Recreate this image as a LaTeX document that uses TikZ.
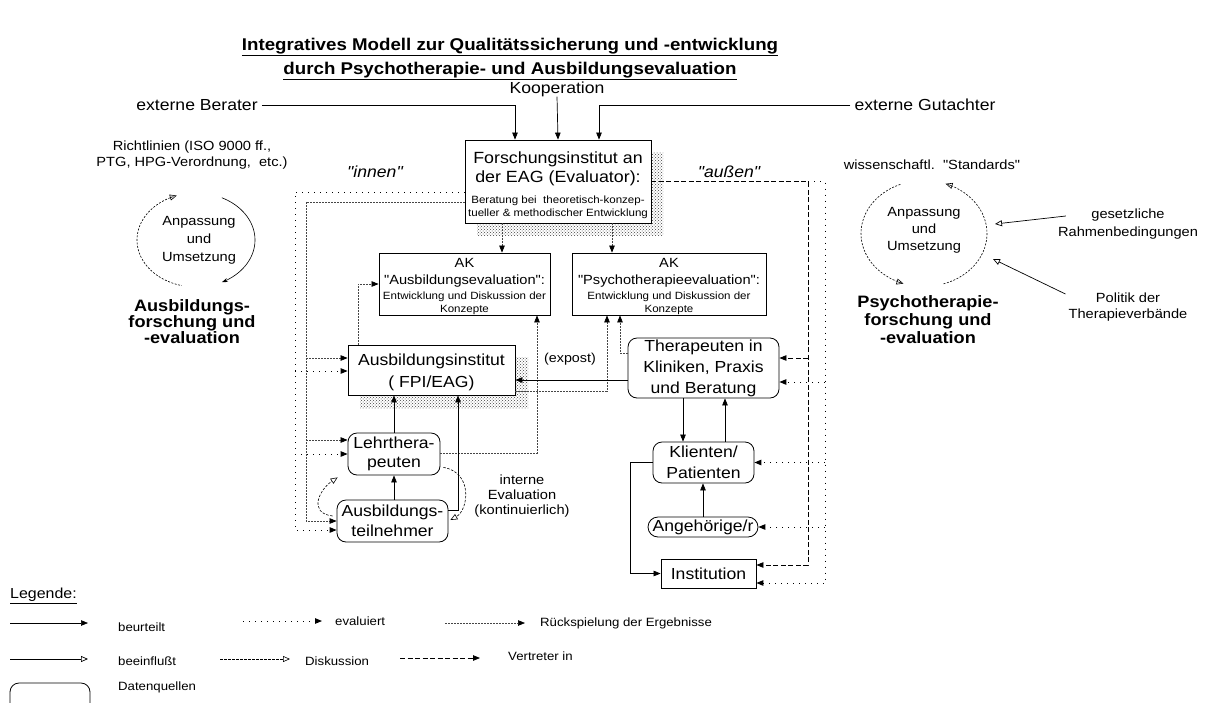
\documentclass[tikz,border=0pt]{standalone}
\usepackage{fontspec}
\setmainfont{Liberation Sans}[FakeStretch=1.1, Ligatures=TeXOff]
\usetikzlibrary{arrows.meta,calc,patterns}
\newcommand\myfs[2]{\fontsize{#1}{#2}\selectfont}
\begin{document}
\begin{tikzpicture}[x=1pt,y=-1pt,
  box/.style={draw, line width=0.8pt, fill=white, inner sep=0pt, align=center},
  rbox/.style={box, rounded corners=9pt},
  txt/.style={inner sep=0pt, align=center},
  beurt/.style={line width=0.7pt, -{Triangle[length=7pt,width=5.5pt]}},
  beein/.style={line width=0.7pt, -{Triangle[open,length=7pt,width=6pt]}},
  evalu/.style={line width=1pt, dash pattern=on 1pt off 5pt, -{Triangle[length=7pt,width=5.5pt]}},
  rueck/.style={line width=0.7pt, gray!55!black, dash pattern=on 2pt off 1pt, -{Triangle[black,length=7pt,width=5.5pt]}},
  vertr/.style={line width=0.8pt, dash pattern=on 5pt off 2.5pt, -{Triangle[length=7pt,width=5.5pt]}},
  disku/.style={line width=0.6pt, dash pattern=on 2.5pt off 1.5pt, -{Triangle[open,length=7pt,width=6pt]}},
  shadow/.style={pattern=crosshatch dots, pattern color=black!75},
  legtxt/.style={txt, anchor=west, font=\myfs{12}{14}},
]
\fill[white] (0,0) rectangle (1213,702);
\useasboundingbox (0,0) rectangle (1213,702);

% ---------- title
\node[txt, font=\bfseries\myfs{17}{24}] (title) at (510,59)
  {\underline{Integratives Modell zur Qualitätssicherung und -entwicklung}\\
   \underline{durch Psychotherapie- und Ausbildungsevaluation}};

% ---------- top labels
\node[txt, font=\myfs{16}{18}] (EB) at (197,105) {externe Berater};
\node[txt, font=\myfs{16}{18}] (KO) at (557,89) {Kooperation};
\node[txt, font=\myfs{16}{18}] (EG) at (925,105) {externe Gutachter};
\node[txt, font=\itshape\myfs{16}{18}] (inn) at (375,172) {"innen"};
\node[txt, font=\itshape\myfs{16}{18}] (aus) at (729,172) {"außen"};

% ---------- shadows
\fill[shadow] (477,152) rectangle (663,235);
\fill[shadow] (360,357) rectangle (528,408);

% ---------- main boxes
\node[box, minimum width=186pt, minimum height=83pt] (F) at (558,181.5) {};
\node[txt, font=\myfs{16.2}{19}] (Ftxt) at (558,185.5)
  {Forschungsinstitut an\\der EAG (Evaluator):\\[2pt]
   {\myfs{10.5}{12}Beratung bei\ \ theoretisch-konzep-}\\[-6pt]
   {\myfs{10.5}{12}tueller \& methodischer Entwicklung}};
\node[box, minimum width=171pt, minimum height=62pt] (A) at (464.5,284) {};
\node[txt, font=\myfs{10.5}{13}] (Atxt) at (464.5,286.5)
  {{\myfs{13.3}{15}AK}\\[4.5pt]{\myfs{13.3}{15}"Ausbildungsevaluation":}\\[2pt]Entwicklung und Diskussion der\\Konzepte};
\node[box, minimum width=194pt, minimum height=62pt] (P) at (669,284) {};
\node[txt, font=\myfs{10.5}{13}] (Ptxt) at (669,286.5)
  {{\myfs{13.3}{15}AK}\\[4.5pt]{\myfs{13.3}{15}"Psychotherapieevaluation":}\\[2pt]Entwicklung und Diskussion der\\Konzepte};
\node[box, minimum width=167pt, minimum height=50pt] (AI) at (431.5,370) {};
\node[txt, font=\myfs{16}{22}] (AItxt) at (431.5,372) {Ausbildungsinstitut\\( FPI/EAG)};
\node[rbox, minimum width=92pt, minimum height=42pt, font=\myfs{16}{18.5}] (L) at (394,454)
  {Lehrthera-\\peuten};
\node[rbox, minimum width=111pt, minimum height=42pt, font=\myfs{16}{20}] (T) at (392.5,521)
  {Ausbildungs-\\teilnehmer};
\node[rbox, minimum width=151pt, minimum height=60pt, font=\myfs{16}{21}] (Th) at (703.5,368)
  {Therapeuten in\\Kliniken, Praxis\\und Beratung};
\node[rbox, minimum width=101pt, minimum height=41pt, font=\myfs{16}{21}] (K) at (703.5,462.5)
  {Klienten/\\Patienten};
\node[rbox, rounded corners=10pt, minimum width=110pt, minimum height=20pt, font=\myfs{16}{18}] (G) at (703,527)
  {Angehörige/r};
\node[box, minimum width=95pt, minimum height=29pt, font=\myfs{16}{18}] (I) at (708.5,573.5)
  {Institution};

% ---------- other texts
\node[txt, font=\myfs{13}{15}] (exp) at (570,359) {(expost)};
\node[txt, font=\myfs{13.3}{15}] (ie) at (522,496) {interne\\Evaluation\\(kontinuierlich)};
\node[txt, font=\myfs{13.3}{16}] (RL) at (192,155) {Richtlinien (ISO 9000 ff.,\\PTG, HPG-Verordnung,\ \ etc.)};
\node[txt, font=\myfs{13.3}{18}] (AN1) at (199,240) {Anpassung\\und\\Umsetzung};
\node[txt, font=\bfseries\myfs{16.5}{16}] (AB) at (192,322) {Ausbildungs-\\forschung und\\-evaluation};
\node[txt, font=\myfs{13.3}{15}] (WS) at (932,165) {wissenschaftl.\ \ "Standards"};
\node[txt, font=\myfs{13.3}{17}] (AN2) at (924,230) {Anpassung\\und\\Umsetzung};
\node[txt, font=\bfseries\myfs{16.5}{18}] (PF) at (928,320) {Psychotherapie-\\forschung und\\-evaluation};
\node[txt, font=\myfs{13.3}{18}] (GR) at (1128,224) {gesetzliche\\Rahmenbedingungen};
\node[txt, font=\myfs{13.3}{16}] (PT) at (1128,307) {Politik der\\Therapieverbände};

% ---------- top arrows
\draw[beurt] ([xshift=4pt]EB.east) -| ([xshift=-43pt]F.north);
\draw[beurt] (KO.south) -- (F.north);
\draw[beurt] ([xshift=-4pt]EG.west) -| ([xshift=41pt]F.north);

% ---------- F to AK boxes
\draw[rueck] ([xshift=-56pt]F.south) -- ([xshift=37.5pt]A.north);
\draw[rueck] ([xshift=54pt]F.south) -- ([xshift=-57pt]P.north);

% ---------- left dotted (evaluiert)
\coordinate (dL) at (295,192);
\coordinate (TinD) at ([yshift=-9pt]T.west);
\coordinate (AIinD) at ([yshift=-1pt]AI.west);
\draw[evalu] ([yshift=-10.5pt]F.west) -- (dL) -- (dL |- TinD) -- (TinD);
\draw[evalu] (dL |- AIinD) -- (AIinD);
\draw[evalu] (dL |- L.west) -- (L.west);

% ---------- left dashed (Rueckspielung)
\coordinate (rL) at (306,202);
\coordinate (AIinR) at ([yshift=12pt]AI.west);
\coordinate (LinR) at ([yshift=14pt]L.west);
\draw[rueck] ([yshift=-20.5pt]F.west) -- (rL) -- (rL |- T.west) -- (T.west);
\draw[rueck] (rL |- AIinR) -- (AIinR);
\draw[rueck] (rL |- LinR) -- (LinR);

% ---------- right dashed (Vertreter)
\coordinate (vR) at (808,181.5);
\coordinate (IinV) at ([yshift=8.5pt]I.east);
\coordinate (ThinV) at ([yshift=10pt]Th.east);
\draw[vertr] (F.east) -- (vR) -- (vR |- IinV) -- (IinV);
\draw[vertr] (vR |- ThinV) -- (ThinV);

% ---------- right dotted (evaluiert)
\coordinate (dR) at (825,181.5);
\coordinate (IinD) at ([yshift=-9.5pt]I.east);
\coordinate (ThinD) at ([yshift=-14pt]Th.east);
\draw[evalu] (vR) -- (dR) -- (dR |- IinD) -- (IinD);
\draw[evalu] (dR |- ThinD) -- (ThinD);
\draw[evalu] (dR |- K.east) -- (K.east);
\draw[evalu] (dR |- G.east) -- (G.east);

% ---------- inner connectors
\draw[rueck] ([xshift=-73.5pt]AI.north) |- (A.west);
\draw[rueck] ([yshift=1pt]L.east) -| ([xshift=72.5pt]A.south);
\draw[rueck] ([yshift=-21pt]AI.east) -| ([xshift=-62pt]P.south);
\draw[rueck] ([yshift=15pt]Th.west) -| ([xshift=-49pt]P.south);
\coordinate (ThoutE) at ([yshift=-12pt]Th.west);
\draw[beurt] (ThoutE) -- (ThoutE -| AI.east);
\draw[beurt] (L.north) -- (L.north |- AI.south);
\draw[beurt] ([yshift=11pt]T.east) -| ([xshift=26.5pt]AI.south);
\draw[beurt] (L.south |- T.north) -- (L.south);
\draw[disku] ($(T.west)+(-4,-5)$) .. controls +(-25,-3) and +(-18,12) .. ($(L.south west)+(-10,2)$);
\draw[disku] ($(L.south east)+(3,-8)$) .. controls +(30,5) and +(18,-10) .. ($(T.east)+(2,-1)$);

% ---------- right cluster
\draw[beurt] ([xshift=-20.5pt]Th.south) -- ([xshift=-20.5pt]Th.south |- K.north);
\draw[beurt] ([xshift=21.5pt]Th.south |- K.north) -- ([xshift=21.5pt]Th.south);
\draw[beurt] (G.north) -- (G.north |- K.south);
\draw[beurt] (K.west) -- ++(-22,0) |- (I.west);

% ---------- cycles
\draw[line width=0.6pt, dash pattern=on 2pt off 1.5pt, {Triangle[open,length=7pt,width=6pt]}-, domain=109:256, samples=40, smooth, variable=\t]
  plot ({196+59*cos(\t)},{240-47*sin(\t)});
\draw[line width=0.6pt, {Stealth[length=6pt,width=4pt]}-, domain=-64:64, samples=40, smooth, variable=\t]
  plot ({196+59*cos(\t)},{240-47*sin(\t)});
\draw[line width=0.6pt, dash pattern=on 2pt off 1.5pt, -{Triangle[open,length=7pt,width=6pt]}, domain=112:251, samples=40, smooth, variable=\t]
  plot ({924+63*cos(\t)},{233.5-53*sin(\t)});
\draw[line width=0.6pt, dash pattern=on 2pt off 1.5pt, -{Triangle[open,length=7pt,width=6pt]}, domain=-72:70, samples=40, smooth, variable=\t]
  plot ({924+63*cos(\t)},{233.5-53*sin(\t)});
\coordinate (cG) at (995,224);
\coordinate (cP) at (993,259);
\draw[beein] ($(GR.west)+(8,-8)$) -- (cG);
\draw[beein] ($(PT.west)+(-3,-13)$) -- (cP);

% ---------- legend
\node[txt, anchor=west, font=\myfs{14.5}{16}] (leg) at (10,596) {\underline{Legende:}};
\coordinate (l1a) at (10,623);  \coordinate (l1b) at (88,623);
\coordinate (l2a) at (243,621); \coordinate (l2b) at (322,621);
\coordinate (l3a) at (445,623); \coordinate (l3b) at (525,623);
\coordinate (l4a) at (10,659);  \coordinate (l4b) at (88,659);
\coordinate (l5a) at (220,659); \coordinate (l5b) at (290,659);
\coordinate (l6a) at (400,658); \coordinate (l6b) at (480,658);
\draw[beurt] (l1a) -- (l1b);
\draw[evalu] (l2a) -- (l2b);
\draw[rueck] (l3a) -- (l3b);
\draw[beein] (l4a) -- (l4b);
\draw[disku] (l5a) -- (l5b);
\draw[vertr] (l6a) -- (l6b);
\node[legtxt] (t1) at (118,627) {beurteilt};
\node[legtxt] (t2) at (335,621) {evaluiert};
\node[legtxt] (t3) at (540,623) {Rückspielung der Ergebnisse};
\node[legtxt] (t4) at (118,661) {beeinflußt};
\node[legtxt] (t5) at (305,661) {Diskussion};
\node[legtxt] (t6) at (508,656) {Vertreter in};
\node[rbox, minimum width=80pt, minimum height=34pt] (lgD) at (50,700) {};
\node[legtxt] (t7) at (118,687) {Datenquellen};
\end{tikzpicture}
\end{document}
